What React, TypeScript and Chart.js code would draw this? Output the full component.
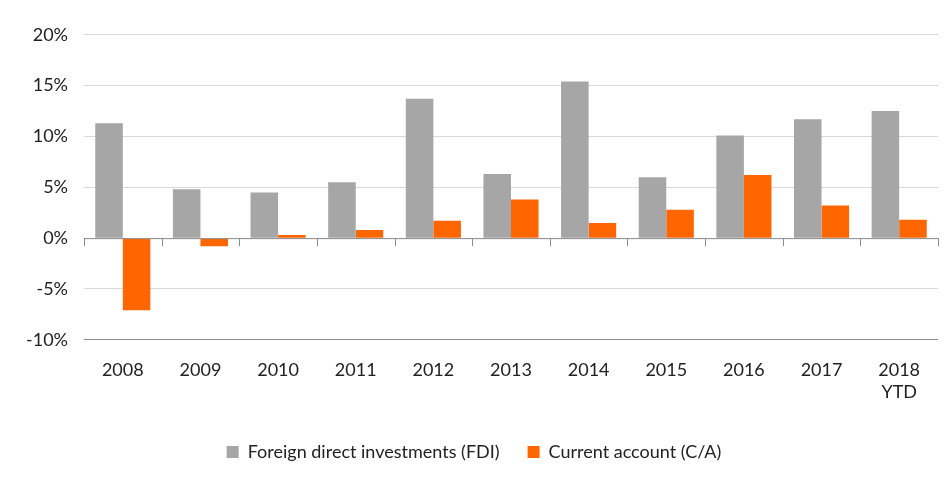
import React, { useEffect, useRef } from "react";
import { Chart, registerables } from "chart.js";
Chart.register(...registerables);

const categories: (string | string[])[] = ["2008", "2009", "2010", "2011", "2012", "2013", "2014", "2015", "2016", "2017", ["2018", "YTD"]];
const fdi = [11.3, 4.8, 4.5, 5.5, 13.7, 6.3, 15.4, 6.0, 10.1, 11.7, 12.5];
const ca = [-7.1, -0.8, 0.3, 0.8, 1.7, 3.8, 1.5, 2.8, 6.2, 3.2, 1.8];

const zeroAxis = {
  id: "zeroAxis",
  afterDatasetsDraw(chart: any) {
    const { ctx, scales } = chart;
    const x = scales.x, y = scales.y;
    const y0 = y.getPixelForValue(0);
    ctx.save();
    ctx.strokeStyle = "#8c8c8c";
    ctx.lineWidth = 1;
    ctx.beginPath();
    ctx.moveTo(x.left, y0 + 0.5);
    ctx.lineTo(x.right, y0 + 0.5);
    const n = categories.length;
    const w = (x.right - x.left) / n;
    for (let i = 0; i <= n; i++) {
      const px = Math.round(x.left + i * w) + 0.5;
      ctx.moveTo(px, y0);
      ctx.lineTo(px, y0 + 8);
    }
    ctx.stroke();
    ctx.restore();
  },
};

export default function App() {
  const ref = useRef<HTMLCanvasElement>(null);
  useEffect(() => {
    const chart = new Chart(ref.current!, {
      type: "bar",
      data: {
        labels: categories,
        datasets: [
          { label: "Foreign direct investments (FDI)", data: fdi, backgroundColor: "#a6a6a6" },
          { label: "Current account (C/A)", data: ca, backgroundColor: "#ff6600" },
        ],
      },
      options: {
        animation: false,
        responsive: true,
        maintainAspectRatio: false,
        layout: { padding: { left: 2, right: 6, top: 4, bottom: 12 } },
        datasets: { bar: { categoryPercentage: 0.71, barPercentage: 1 } } as any,
        plugins: {
          tooltip: { enabled: false },
          legend: {
            position: "bottom",
            labels: { font: { family: "Lato", size: 18 }, color: "#222", boxWidth: 12, boxHeight: 12, padding: 28 },
          },
        },
        scales: {
          x: {
            grid: { display: false },
            border: { display: false },
            ticks: { font: { family: "Lato", size: 18 }, color: "#222", padding: 12 },
          },
          y: {
            min: -10,
            max: 20,
            border: { display: false },
            grid: {
              color: (c: any) => (c.tick && c.tick.value === -10 ? "#8c8c8c" : "#d9d9d9"),
              drawTicks: false,
            },
            ticks: {
              stepSize: 5,
              padding: 16,
              font: { family: "Lato", size: 18 },
              color: "#222",
              callback: (v: any) => v + "%",
            },
          },
        },
      },
      plugins: [zeroAxis],
    });
    return () => chart.destroy();
  }, []);
  return (
    <div style={{ width: 936, height: 475 }}>
      <canvas ref={ref} />
    </div>
  );
}
